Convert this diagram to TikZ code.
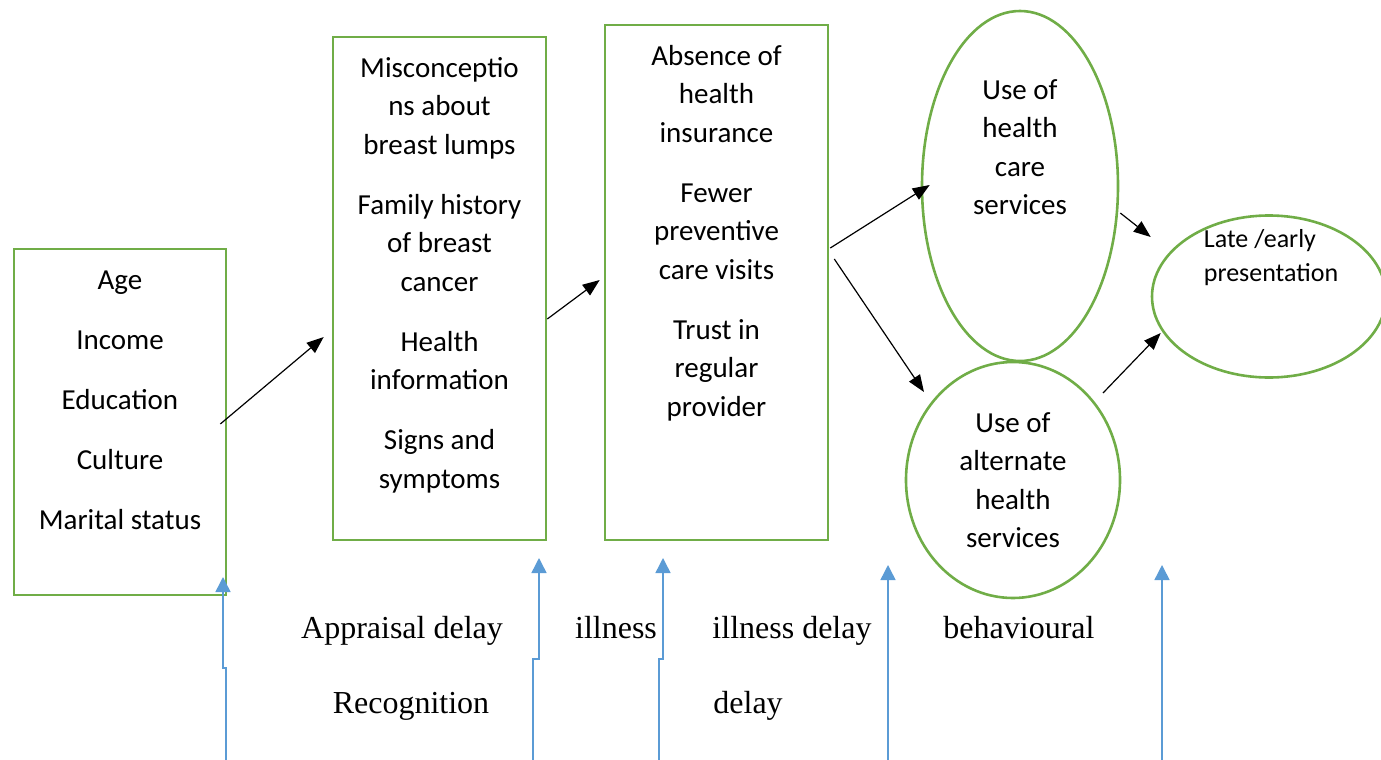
\documentclass[tikz,border=0pt]{standalone}
\usepackage{fontspec}
\setmainfont{Carlito}
\newfontfamily\timesfont{Liberation Serif}
\usepackage{xcolor}
\usetikzlibrary{positioning,calc,arrows.meta,shapes.geometric}

\definecolor{factorgreen}{HTML}{70AD47}
\definecolor{delayblue}{HTML}{5B9BD5}

\begin{document}
\begin{tikzpicture}[x=0.5pt, y=-0.5pt,
  factorbox/.style={draw=factorgreen, line width=1.3pt, inner sep=0pt},
  factoroval/.style={draw=factorgreen, line width=1.3pt, ellipse, inner sep=0pt},
  factortext/.style={align=center, inner sep=0pt, font=\fontsize{14.5}{19.25}\selectfont},
  flow/.style={line width=0.6pt, -{Triangle[length=8.5pt, width=6.5pt]}},
  delayline/.style={draw=delayblue, line width=0.75pt, -{Triangle[length=7.5pt, width=7.5pt]}},
  stage/.style={font=\timesfont\fontsize{16}{19}\selectfont, inner sep=0pt, anchor=base}]

  \useasboundingbox (0,0) rectangle (1381,760);

  % Factor boxes
  \node[factorbox, minimum width=106pt, minimum height=173pt] (demo) at (120,422) {};
  \node[factortext, anchor=north] (demoText) at ([yshift=-11.5pt]demo.north)
    {Age\\[10.75pt]Income\\[10.75pt]Education\\[10.75pt]Culture\\[10.75pt]Marital status};

  \node[factorbox, minimum width=106.5pt, minimum height=251.5pt] (belief) at (439.5,288.5) {};
  \node[factortext, anchor=north] (beliefText) at ([yshift=-10.5pt]belief.north)
    {Misconceptio\\ns about\\breast lumps\\[10.75pt]Family history\\of breast\\cancer\\[10.75pt]Health\\information\\[10.75pt]Signs and\\symptoms};

  \node[factorbox, minimum width=111.5pt, minimum height=257.5pt] (access) at (716.5,282.5) {};
  \node[factortext, anchor=north] (accessText) at ([yshift=-10.5pt]access.north)
    {Absence of\\health\\insurance\\[10.75pt]Fewer\\preventive\\care visits\\[10.75pt]Trust in\\regular\\provider};

  % Service use and outcome
  \node[factoroval, minimum width=98pt, minimum height=175pt] (care) at (1020,186) {};
  \node[factortext] (careText) at ([yshift=19.5pt]care.center) {Use of\\health\\care\\services};

  \node[factoroval, minimum width=107pt, minimum height=118pt] (alt) at (1013,480) {};
  \node[factortext] (altText) at (alt.center) {Use of\\alternate\\health\\services};

  \node[factoroval, minimum width=117pt, minimum height=81pt] (outcome) at (1269,296.5) {};
  \node[factortext, align=left, font=\fontsize{13}{17}\selectfont] (outcomeText)
    at ([xshift=1pt, yshift=19.5pt]outcome.center) {Late /early\\presentation};

  % Pathway arrows
  \draw[flow] ([xshift=-3.5pt, yshift=-1pt]demo.east) -- ([xshift=-4pt, yshift=-24.25pt]belief.west);
  \draw[flow] ([yshift=-15.25pt]belief.east) -- ([xshift=-2pt, yshift=1.25pt]access.west);
  \draw[flow] ([xshift=0.5pt, yshift=17.25pt]access.east) -- ([xshift=4.5pt, yshift=0.5pt]care.west);
  \draw[flow] ([xshift=2.5pt, yshift=11.75pt]access.east) -- ([xshift=-44.5pt, yshift=44pt]alt.center);
  \draw[flow] ([xshift=0.5pt, yshift=-13.5pt]care.east) -- ([yshift=29.75pt]outcome.west);
  \draw[flow] ([xshift=45pt, yshift=43.5pt]alt.center) -- ([xshift=5pt, yshift=-18.25pt]outcome.west);

  % Delay markers
  \coordinate (foot1) at (226,760); \coordinate (tip1) at (223,577);
  \coordinate (foot2) at (533,760); \coordinate (tip2) at (539,558);
  \coordinate (foot3) at (659,760); \coordinate (tip3) at (663,558);
  \coordinate (foot4) at (888,760); \coordinate (tip4) at (888,565);
  \coordinate (foot5) at (1162,760); \coordinate (tip5) at (1162,565);
  \draw[delayline] (foot1) -- ++(0,-92) -| (tip1);
  \draw[delayline] (foot2) -- ++(0,-101) -| (tip2);
  \draw[delayline] (foot3) -- ++(0,-101) -| (tip3);
  \draw[delayline] (foot4) -- (tip4);
  \draw[delayline] (foot5) -- (tip5);

  % Delay labels
  \node[stage] (appraisal) at (402,638) {Appraisal delay};
  \node[stage] (recognition) at (411,713) {Recognition};
  \node[stage] (illness) at (616,638) {illness};
  \node[stage] (illnessDelay) at (792,638) {illness delay};
  \node[stage, anchor=base west] (delayWord) at (713,713) {delay};
  \node[stage] (behaviour) at (1019,638) {behavioural};
\end{tikzpicture}
\end{document}
